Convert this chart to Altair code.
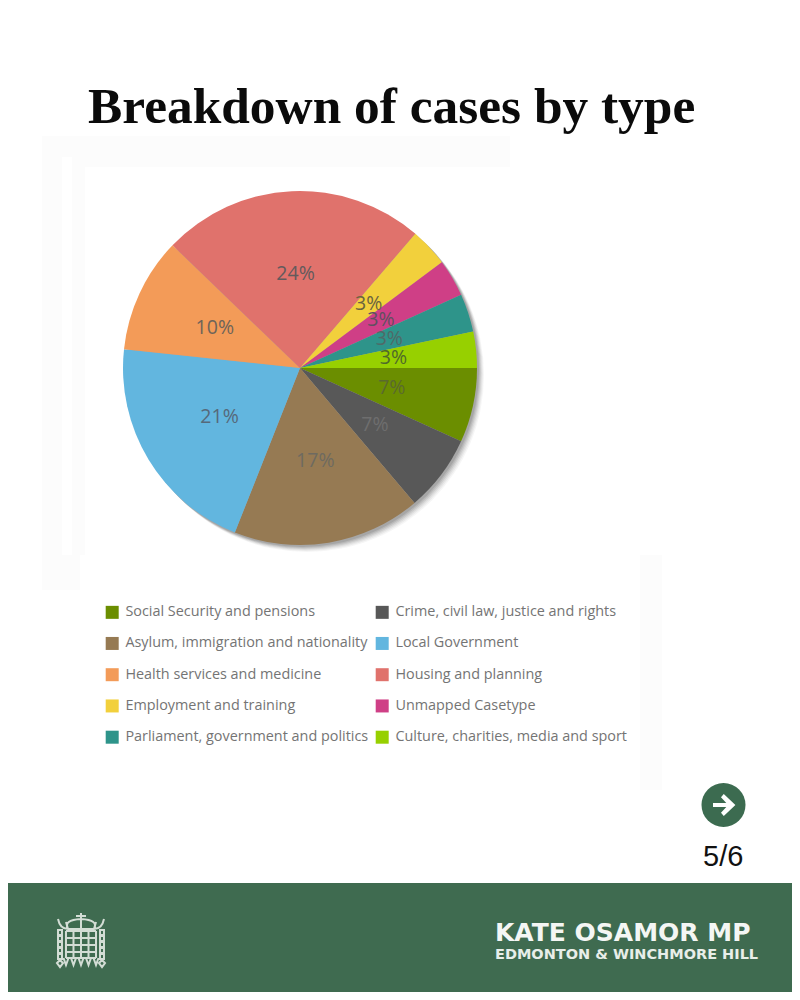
import altair as alt
import pandas as pd

categories = ["Social Security and pensions", "Crime, civil law, justice and rights",
              "Asylum, immigration and nationality", "Local Government",
              "Health services and medicine", "Housing and planning",
              "Employment and training", "Unmapped Casetype",
              "Parliament, government and politics", "Culture, charities, media and sport"]
values = [6.8, 7.0, 17.2, 20.7, 10.5, 24.1, 3.5, 3.4, 3.5, 3.3]
labels = ["7%", "7%", "17%", "21%", "10%", "24%", "3%", "3%", "3%", "3%"]
colors = ["#6b8e00", "#585858", "#967a53", "#62b6df", "#f39b58",
          "#e0726c", "#f2d03c", "#cf3f86", "#2e948a", "#97d000"]
label_colors = ["#5a6a2e", "#6e6e6e", "#6e6a60", "#56697a", "#6e6459",
                "#635a5c", "#6a6440", "#5f5060", "#4f6a68", "#4f6a2a"]

df = pd.DataFrame({"name": categories, "value": values, "label": labels,
                   "ink": label_colors, "rank": list(range(len(values)))})

OX, OY = 8, 8   # page margin
W, H = 784, 984
CX, CY, R = 300 - OX, 368 - OY, 177
PI = 3.141592653589793


def pg(x, y):
    return dict(x=alt.value(x - OX), y=alt.value(y - OY))


one = pd.DataFrame({"a": [0]})
base = alt.Chart(one)

theta = alt.Theta("value:Q", stack=True, scale=alt.Scale(range=[PI / 2, PI / 2 + 2 * PI]))
order = alt.Order("rank:Q")
detail = alt.Detail("name:N")

# pale smudges of the scanned picture
smudges = [
    (42, 136, 510, 157), (42, 157, 62, 590), (72, 157, 510, 167), (72, 167, 85, 555),
    (62, 555, 80, 590), (640, 555, 662, 790),
]
layers = []
for x0, y0, x1, y1 in smudges:
    layers.append(base.mark_rect(color="#fcfcfc").encode(
        x=alt.value(x0 - OX), x2=alt.value(x1 - OX), y=alt.value(y0 - OY), y2=alt.value(y1 - OY)))

# footer band
layers.append(base.mark_rect(color="#3f6b50").encode(
    x=alt.value(0), x2=alt.value(W), y=alt.value(883 - OY), y2=alt.value(H)))

# pie shadow
for d, op in [(7, 0.05), (6, 0.07), (5, 0.09), (4, 0.12), (3, 0.15), (2, 0.18)]:
    layers.append(base.mark_arc(theta=0, theta2=2 * PI, outerRadius=R, color="#555555",
                                opacity=op).encode(**pg(300 + d, 368 + d)))

pie = alt.Chart(df).mark_arc(outerRadius=R).encode(
    theta=theta, order=order,
    x=alt.value(CX), y=alt.value(CY),
    color=alt.Color("name:N",
                    scale=alt.Scale(domain=categories, range=colors),
                    legend=alt.Legend(
                        title=None, orient="none", legendX=97, legendY=597,
                        direction="horizontal", columns=2, symbolType="square",
                        symbolSize=169, symbolStrokeWidth=0, symbolOpacity=1,
                        labelFont="Open Sans", labelFontSize=14.4, labelColor="#747474",
                        labelLimit=300, rowPadding=16.25, columnPadding=6, labelOffset=6,
                        gridAlign="each")),
)
layers.append(pie)

pct = alt.Chart(df).mark_text(radius=94, font="Open Sans", fontSize=19.5,
                              align="center", baseline="middle").encode(
    theta=theta, order=order, detail=detail,
    x=alt.value(CX), y=alt.value(CY),
    text="label:N",
    color=alt.Color("ink:N", scale=None),
)
layers.append(pct)


def txt(text, x, y, **kw):
    return base.mark_text(text=text, align="left", baseline="alphabetic", **kw).encode(**pg(x, y))


layers.append(txt("Breakdown of cases by type", 88, 123, font="Liberation Serif",
                  fontWeight="bold", fontSize=51.4, color="#0b0b0b"))
layers.append(txt("5/6", 703, 866, font="Liberation Sans", fontSize=29, color="#111111"))
layers.append(txt("KATE OSAMOR MP", 495, 941, font="DejaVu Sans", fontWeight="bold",
                  fontSize=25, color="#f4f6f4"))
layers.append(txt("EDMONTON & WINCHMORE HILL", 495, 959, font="DejaVu Sans", fontWeight="bold",
                  fontSize=14.5, color="#e8eee9"))

# arrow button
layers.append(base.mark_point(shape="circle", filled=True, color="#3c6b50", size=44 * 44,
                              strokeWidth=0, opacity=1).encode(**pg(723.5, 805)))
arrow = "M-0.75,-0.14 L0.2,-0.14 L-0.18,-0.55 L0.02,-0.78 L0.85,0 L0.02,0.78 L-0.18,0.55 L0.2,0.14 L-0.75,0.14 Z"
layers.append(base.mark_point(shape=arrow, filled=True, color="#ffffff", size=28 * 28,
                              strokeWidth=0, opacity=1).encode(**pg(723.5, 805)))


# portcullis emblem, drawn as one stroked symbol (1 unit = 28px around its centre)
def u(x, y):
    return f"{(x - 81) / 28:.3f},{(y - 940) / 28:.3f}"


parts = []
for x in (66, 73.5, 81, 88.5, 96):
    parts.append(f"M{u(x, 931)} L{u(x, 958)}")
for y in (931, 938, 945, 952, 958):
    parts.append(f"M{u(66, y)} L{u(96, y)}")
for x in (66, 73.5, 81, 88.5, 96):
    parts.append(f"M{u(x - 2.5, 958)} L{u(x, 965)} L{u(x + 2.5, 958)}")
for x in (60, 102):
    for y in (930, 936, 942, 948, 954):
        parts.append(f"M{u(x - 2, y)} L{u(x + 2, y)} L{u(x + 2, y + 5)} L{u(x - 2, y + 5)} Z")
    parts.append(f"M{u(x - 3, 963)} L{u(x, 960)} L{u(x + 3, 963)} L{u(x, 967)} Z")
parts.append(f"M{u(58, 919)} Q{u(60, 929)} {u(68, 929)} L{u(94, 929)} Q{u(102, 929)} {u(104, 919)}")
parts.append(f"M{u(68, 929)} Q{u(63, 920)} {u(81, 919)} Q{u(99, 920)} {u(94, 929)}")
parts.append(f"M{u(81, 913)} L{u(81, 929)} M{u(76, 916)} L{u(86, 916)}")
parts.append(f"M{u(66, 922)} L{u(68, 929)} M{u(96, 922)} L{u(94, 929)}")
layers.append(base.mark_point(shape=" ".join(parts), filled=False, color="#d3ddd5",
                              size=56 * 56, strokeWidth=2, opacity=1).encode(**pg(81, 940)))

chart = alt.layer(*layers).resolve_scale(color="independent").properties(
    width=W, height=H, padding=0, autosize=alt.AutoSizeParams(type="none"),
    background="#ffffff",
).configure_view(stroke=None)

chart.save("out.html", embed_options={"renderer": "svg", "actions": False})
